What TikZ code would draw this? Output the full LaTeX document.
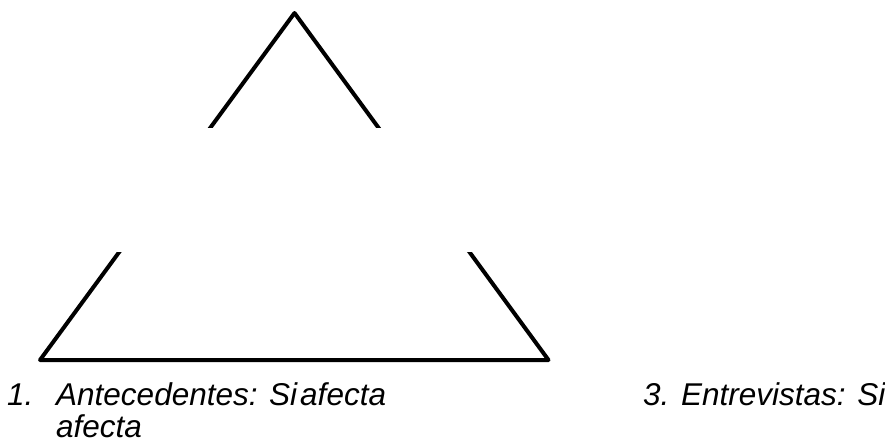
\documentclass[tikz,border=0pt]{standalone}
\usepackage{fontspec}
\setmainfont{Liberation Sans}
\begin{document}
\begin{tikzpicture}[x=1pt,y=-1pt,
  edge/.style={line width=4pt,line join=round,black},
  lbl/.style={inner sep=0pt,anchor=base west,font=\fontsize{31.5}{33}\selectfont\itshape}]
\useasboundingbox (0,0) rectangle (885,442);
\coordinate (apex) at (294.5,13);
\coordinate (bl) at (40,360);
\coordinate (br) at (548.5,360);
\draw[edge] (apex) -- (br) -- (bl) -- cycle;
\fill[white] (95,128) rectangle (495,252);
\node[lbl] (n1) at (7,405) {1.};
\node[lbl] (t1) at (56,405) {Antecedentes: Si\hspace{3pt}afecta};
\node[lbl] (t1b) at (56,437) {afecta};
\node[lbl] (t3) at (643,405) {3. Entrevistas: Si};
\end{tikzpicture}
\end{document}
